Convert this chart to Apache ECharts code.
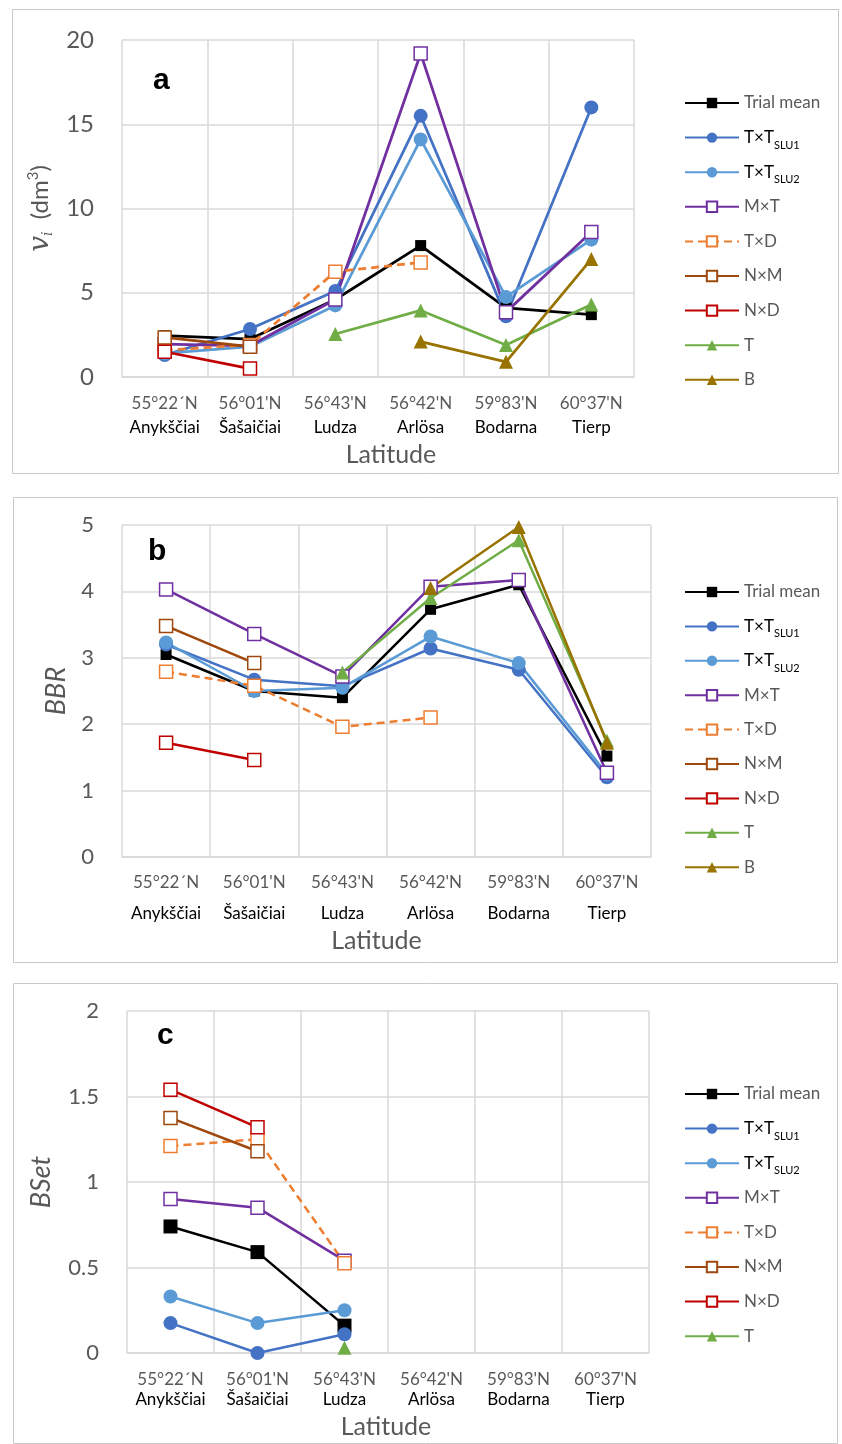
<!DOCTYPE html>
<html><head><meta charset="utf-8">
<script src="https://cdn.jsdelivr.net/npm/echarts@6/dist/echarts.min.js"></script>
<style>html,body{margin:0;padding:0;background:#fff}#c{width:842px;height:1444px}</style>
</head><body><div id="c"></div>
<script>
// ---------- categories / tick labels ----------
const locations = ['Anykščiai', 'Šašaičiai', 'Ludza', 'Arlösa', 'Bodarna', 'Tierp'];
const latitudes = ['55°22´N', "56°01'N", "56°43'N", "56°42'N", "59°83'N", "60°37'N"];
const seriesNames = ['Trial mean', 'T×T SLU1', 'T×T SLU2', 'M×T', 'T×D', 'N×M', 'N×D', 'T', 'B'];

// ---------- panel a : v_i (dm3) ----------
const volTrialMean = [2.45, 2.25, 4.6, 7.8, 4.1, 3.7];
const volTTSLU1   = [1.3, 2.85, 5.1, 15.5, 3.6, 16.0];
const volTTSLU2   = [1.4, 1.8, 4.25, 14.1, 4.75, 8.15];
const volMT       = [1.95, 1.85, 4.6, 19.2, 3.85, 8.6];
const volTD       = [1.6, 1.9, 6.25, 6.8, null, null];
const volNM       = [2.35, 1.8, null, null, null, null];
const volND       = [1.5, 0.5, null, null, null, null];
const volT        = [null, null, 2.55, 3.95, 1.9, 4.3];
const volB        = [null, null, null, 2.1, 0.9, 7.0];

// ---------- panel b : BBR ----------
const bbrTrialMean = [3.05, 2.5, 2.4, 3.73, 4.1, 1.52];
const bbrTTSLU1   = [3.2, 2.67, 2.57, 3.14, 2.82, 1.2];
const bbrTTSLU2   = [3.23, 2.5, 2.55, 3.32, 2.92, 1.25];
const bbrMT       = [4.03, 3.36, 2.72, 4.07, 4.17, 1.27];
const bbrTD       = [2.79, 2.58, 1.96, 2.1, null, null];
const bbrNM       = [3.48, 2.92, null, null, null, null];
const bbrND       = [1.72, 1.46, null, null, null, null];
const bbrT        = [null, null, 2.78, 3.9, 4.77, 1.75];
const bbrB        = [null, null, null, 4.05, 4.97, 1.72];

// ---------- panel c : BSet ----------
const bsetTrialMean = [0.74, 0.59, 0.16, null, null, null];
const bsetTTSLU1   = [0.175, 0.0, 0.11, null, null, null];
const bsetTTSLU2   = [0.33, 0.175, 0.25, null, null, null];
const bsetMT       = [0.9, 0.85, 0.54, null, null, null];
const bsetTD       = [1.21, 1.25, 0.525, null, null, null];
const bsetNM       = [1.375, 1.18, null, null, null, null];
const bsetND       = [1.54, 1.32, null, null, null, null];
const bsetT        = [null, null, 0.03, null, null, null];

// ---------- ticks ----------
const yTicksA = {min: 0, max: 20, interval: 5};
const yTicksB = {min: 0, max: 5, interval: 1};
const yTicksC = {min: 0, max: 2, interval: 0.5};

const panelData = [
  [volTrialMean, volTTSLU1, volTTSLU2, volMT, volTD, volNM, volND, volT, volB],
  [bbrTrialMean, bbrTTSLU1, bbrTTSLU2, bbrMT, bbrTD, bbrNM, bbrND, bbrT, bbrB],
  [bsetTrialMean, bsetTTSLU1, bsetTTSLU2, bsetMT, bsetTD, bsetNM, bsetND, bsetT]
];

// ---------- styles ----------
const FONT = 'Lato';
const GRAY = '#595959';
const GRID_C = '#d9d9d9';
const sty = {
  'Trial mean': {c: '#000000', sym: 'rect', hollow: false, size: 11},
  'T×T SLU1':  {c: '#4472C4', sym: 'circle', hollow: false, size: 14},
  'T×T SLU2':  {c: '#5B9BD5', sym: 'circle', hollow: false, size: 14},
  'M×T':       {c: '#7030A0', sym: 'rect', hollow: true, size: 13},
  'T×D':       {c: '#ED7D31', sym: 'rect', hollow: true, size: 13, dash: true},
  'N×M':       {c: '#9E480E', sym: 'rect', hollow: true, size: 13},
  'N×D':       {c: '#C00000', sym: 'rect', hollow: true, size: 13},
  'T':         {c: '#70AD47', sym: 'triangle', hollow: false, size: 14},
  'B':         {c: '#997300', sym: 'triangle', hollow: false, size: 14}
};

function makeSeries(gi, name, data) {
  const s = sty[name];
  const big = gi === 2 && name === 'Trial mean' ? 14 : s.size;
  return {
    type: 'line', name: name, data: data, xAxisIndex: gi, yAxisIndex: gi,
    symbol: s.sym, symbolSize: big, showAllSymbol: true, connectNulls: false,
    lineStyle: {color: s.c, width: gi === 0 ? 2.75 : 2.5, type: s.dash ? [8, 5] : 'solid'},
    itemStyle: s.hollow ? {color: '#ffffff', borderColor: s.c, borderWidth: 1.5} : {color: s.c, borderWidth: 0},
    emphasis: {disabled: true},
    z: 2
  };
}

const series = [];
panelData.forEach((arr, gi) => arr.forEach((d, k) => series.push(makeSeries(gi, seriesNames[k], d))));

const grids = [
  {left: 122, top: 40, width: 512, height: 337},
  {left: 122, top: 525, width: 529, height: 332},
  {left: 127, top: 1011, width: 522, height: 342}
];

const xLab = [
  {margin: 15, latLH: 24, locLH: 24},
  {margin: 13, latLH: 26, locLH: 36},
  {margin: 17, latLH: 20, locLH: 20}
];

const xAxes = grids.map((g, i) => ({
  type: 'category', gridIndex: i, data: locations, boundaryGap: true,
  axisLine: {show: true, lineStyle: {color: GRID_C, width: 1.5}},
  axisTick: {show: false},
  splitLine: {show: true, lineStyle: {color: GRID_C, width: 1.5}},
  axisLabel: {
    interval: 0, margin: xLab[i].margin,
    formatter: (v, idx) => '{lat|' + latitudes[idx] + '}\n{loc|' + v + '}',
    rich: {
      lat: {color: GRAY, fontFamily: FONT, fontSize: 17, lineHeight: xLab[i].latLH},
      loc: {color: '#000', fontFamily: FONT, fontSize: 17, lineHeight: xLab[i].locLH}
    }
  },
  name: 'Latitude', nameLocation: 'middle',
  nameGap: [65, 71, 61][i],
  nameTextStyle: {color: GRAY, fontFamily: FONT, fontSize: 25,
    padding: [[0, 0, 0, 26], [0, 20, 0, 0], [0, 4, 0, 0]][i]}
}));

const yTicks = [yTicksA, yTicksB, yTicksC];
const yAxes = grids.map((g, i) => ({
  type: 'value', gridIndex: i, min: yTicks[i].min, max: yTicks[i].max, interval: yTicks[i].interval,
  axisLine: {show: false}, axisTick: {show: false},
  splitLine: {show: true, lineStyle: {color: GRID_C, width: 1.5}},
  axisLabel: {color: GRAY, fontFamily: FONT, fontSize: [24, 22, 22][i], margin: 28},
  nameLocation: 'middle', nameRotate: 90,
  name: ['{v|v}{i|i}  (dm{p|3})', 'BBR', 'BSet'][i],
  nameGap: [42, 52, 72][i],
  nameTextStyle: i === 0 ? {
    color: GRAY, fontFamily: FONT, fontSize: 24, lineHeight: 30,
    rich: {
      v: {fontFamily: 'DejaVu Serif', fontStyle: 'italic', fontSize: 28, color: GRAY, lineHeight: 30},
      i: {fontFamily: 'DejaVu Serif', fontStyle: 'italic', fontSize: 14, color: GRAY, lineHeight: 12, verticalAlign: 'bottom'},
      p: {fontFamily: FONT, fontSize: 15, color: GRAY, lineHeight: 14, verticalAlign: 'top'}
    }
  } : {color: GRAY, fontFamily: FONT, fontStyle: 'italic', fontSize: 27}
}));

function fmtLegend(name) {
  if (name.indexOf('T×T ') === 0) return '{k|T×T}{s|' + name.slice(4) + '}';
  return '{g|' + name + '}';
}
const legendRich = {
  g: {color: GRAY, fontFamily: FONT, fontSize: 17, lineHeight: 26, height: 26},
  k: {color: '#000', fontFamily: FONT, fontSize: 17, lineHeight: 26, height: 26},
  s: {color: '#000', fontFamily: FONT, fontSize: 11, lineHeight: 11, height: 11, verticalAlign: 'bottom'}
};
const legendTops = [90, 579, 1081];
const legendGaps = [8.6, 8.4, 8.6];
const legends = legendTops.map((t, i) => ({
  orient: 'vertical', left: 684, top: t, padding: 0,
  itemWidth: 54, itemHeight: 13, itemGap: legendGaps[i],
  data: i === 2 ? seriesNames.slice(0, 8) : seriesNames.slice(),
  formatter: fmtLegend, selectedMode: false,
  textStyle: {fontFamily: FONT, fontSize: 17, color: GRAY, lineHeight: 26, rich: legendRich}
}));

const boxes = [
  {x: 12, y: 9, w: 826, h: 464},
  {x: 13, y: 497, w: 824, h: 465},
  {x: 13, y: 983, w: 824, h: 460}
];
const graphic = boxes.map(b => ({
  type: 'rect', silent: true, z: -10,
  shape: {x: b.x + 0.5, y: b.y + 0.5, width: b.w, height: b.h},
  style: {fill: null, stroke: '#c8c8c8', lineWidth: 1}
}));
[['a', 153, 80.6], ['b', 148, 551.6], ['c', 157, 1035.6]].forEach(([t, x, y]) => {
  graphic.push({type: 'text', x: x, y: y, silent: true, z: 10,
    style: {text: t, font: 'bold 30px "Liberation Sans"', fill: '#000', verticalAlign: 'middle'}});
});

const chart = echarts.init(document.getElementById('c'), null, {renderer: 'canvas'});
chart.setOption({
  animation: false,
  backgroundColor: '#ffffff',
  grid: grids,
  xAxis: xAxes,
  yAxis: yAxes,
  legend: legends,
  series: series,
  graphic: graphic
});
</script></body></html>
